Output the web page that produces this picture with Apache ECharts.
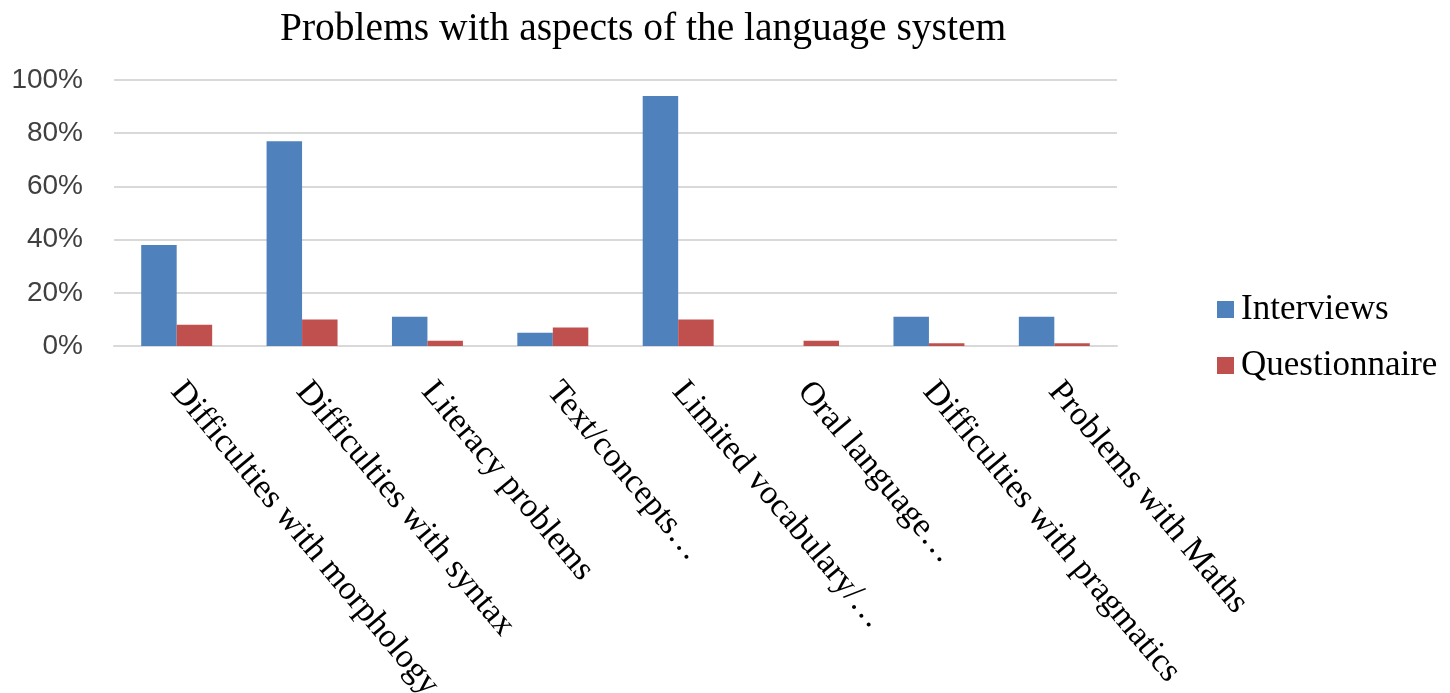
<!DOCTYPE html>
<html>
<head>
<meta charset="utf-8">
<script src="https://cdn.jsdelivr.net/npm/echarts@6/dist/echarts.min.js"></script>
<style>
  html, body { margin: 0; padding: 0; background: #fff; }
  #chart { width: 1450px; height: 693px; }
</style>
</head>
<body>
<div id="chart"></div>
<script>
// Categories of language-system problems
const categories = [
  'Difficulties with morphology',
  'Difficulties with syntax',
  'Literacy problems',
  'Text/concepts…',
  'Limited vocabulary/…',
  'Oral language…',
  'Difficulties with pragmatics',
  'Problems with Maths'
];

// Share of responses (percent) per source
const interviews    = [38, 77, 11, 5, 94, 0, 11, 11];
const questionnaire = [8, 10, 2, 7, 10, 2, 1, 1];

// Y axis ticks (percent)
const yTicks = [0, 20, 40, 60, 80, 100];

const chart = echarts.init(document.getElementById('chart'));

chart.setOption({
  backgroundColor: '#ffffff',
  animation: false,
  title: {
    text: 'Problems with aspects of the language system',
    left: 275,
    top: 5,
    textStyle: {
      fontFamily: 'Liberation Serif',
      fontSize: 39.5,
      fontWeight: 'normal',
      color: '#000000'
    }
  },
  legend: {
    orient: 'vertical',
    left: 1212,
    top: 287,
    itemWidth: 17,
    itemHeight: 17,
    itemGap: 21,
    icon: 'rect',
    textStyle: {
      fontFamily: 'Liberation Serif',
      fontSize: 35,
      color: '#000000',
      padding: [0, 0, 0, 2]
    },
    data: ['Interviews', 'Questionnaire']
  },
  grid: {
    left: 114,
    right: 333,
    top: 80,
    bottom: 347,
    containLabel: false,
    outerBoundsMode: 'none'
  },
  xAxis: {
    type: 'category',
    data: categories,
    axisLine: { show: true, lineStyle: { color: '#d9d9d9', width: 2 } },
    axisTick: { show: false },
    axisLabel: {
      interval: 0,
      rotate: -50,
      margin: 40,
      fontFamily: 'Liberation Serif',
      fontSize: 34,
      color: '#000000'
    }
  },
  yAxis: {
    type: 'value',
    min: yTicks[0],
    max: yTicks[yTicks.length - 1],
    interval: yTicks[1] - yTicks[0],
    axisLine: { show: false },
    axisTick: { show: false },
    splitLine: { lineStyle: { color: '#d9d9d9', width: 2 } },
    axisLabel: {
      formatter: '{value}%',
      margin: 31,
      fontFamily: 'Liberation Sans',
      fontSize: 28,
      color: '#404040'
    }
  },
  series: [
    {
      name: 'Interviews',
      type: 'bar',
      data: interviews,
      barWidth: '28.3%',
      barGap: '0%',
      itemStyle: { color: '#4f81bd' }
    },
    {
      name: 'Questionnaire',
      type: 'bar',
      data: questionnaire,
      barWidth: '28.3%',
      itemStyle: { color: '#c0504d' }
    }
  ]
});
</script>
</body>
</html>
